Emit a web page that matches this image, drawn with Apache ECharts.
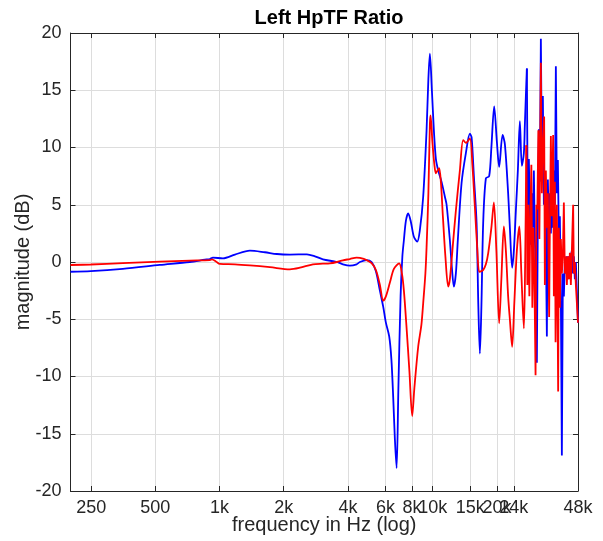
<!DOCTYPE html>
<html><head><meta charset="utf-8">
<script src="https://cdn.jsdelivr.net/npm/echarts@6/dist/echarts.min.js"></script>
<style>html,body{margin:0;padding:0;background:#fff}#c{width:603px;height:541px}</style>
</head><body><div id="c"></div>
<script>
const xTicks = [250, 500, 1000, 2000, 4000, 6000, 8000, 10000, 15000, 20000, 24000, 48000];

const blueFreq = [
 200, 249, 352, 525, 726, 854, 902, 931, 1038, 1181,
 1388, 1632, 1858, 2138, 2569, 2801, 3054, 3552, 3790, 4087,
 4394, 4553, 4895, 5166, 5412, 5651, 5856, 6029, 6248, 6398,
 6524, 6645, 6768, 6900, 7066, 7204, 7322, 7482, 7671, 7897,
 8157, 8453, 8703, 9019, 9355, 9540, 9696, 9907, 10123, 10344,
 10604, 11001, 11400, 11612, 12032, 12295, 12564, 12838, 13118, 13652,
 14301, 14932, 15209, 15591, 16053, 16368, 16636, 16907, 17240, 17748,
 18393, 18836, 19413, 19988, 20489, 21256, 21790, 22574, 22998, 23570,
 24013, 24537, 25073, 25620, 26179, 26751, 27041, 27335, 27632
];
const blueDb = [
 -0.85, -0.8, -0.6, -0.26, 0.0, 0.2, 0.26, 0.38, 0.32, 0.65,
 0.99, 0.85, 0.70, 0.65, 0.67, 0.5, 0.23, 0.0, -0.2, -0.32,
 -0.2, 0.0, 0.17, 0.0, -0.8, -2.5, -3.9, -5.3, -6.5, -8.5,
 -11.8, -15.5, -18.0, -11, -3, 0.5, 1.9, 3.6, 4.25, 3.5,
 2.2, 1.78, 2.8, 5.7, 11.5, 16, 18.2, 15, 11.5, 9.0,
 8.0, 7.0, 5.7, 5.0, 1.9, -0.5, -2.15, -1.0, 2.0, 6.9,
 9.5, 11.2, 10.9, 7.5, 3.4, -4, -8.0, -4, 3.4, 7.3,
 7.5, 10, 13.6, 10.5, 8.3, 11.1, 10.3, 6.0, 3.0, -0.5,
 1.0, 4.5, 8.0, 12.3, 8.4, 9.5, 12, 14.5, 16.9
];
const blueSpikeFreq = [
 27632, 27932, 28235, 28541, 28851, 29164, 29481, 29801, 30124, 30451,
 30782, 31116, 31454, 31795, 32140, 32489, 32842, 33198, 33559, 33923,
 34291, 34663, 35040, 35420, 35805, 36193, 36586, 36983, 37385, 37791,
 38201, 38616, 39035, 39459, 39887, 40320, 40758, 41200, 41647, 42099,
 42556, 43018, 43485, 43957, 44434, 44917, 45404, 45897, 46395, 46899,
 48000
];
const blueSpikeDb = [
 16.9, 2.3, 9, 4, 1.5, 6, 3, 8, 2, -1,
 -8.8, 4, 11.6, 7, 19.5, 9, 14.5, 5, 7.5, 2,
 -6.5, 7.2, 3, 6, 2.5, 5.5, 3, 8, 5, 17.1,
 6, 8.9, 2, 4, -3, -16.9, -1, -3, 0, -1,
 0.5, -1.5, 0.5, -0.5, 0.5, 1.0, -1, 0.5, -1.5, 0,
 -5.3
];

const redFreq = [
 200, 249, 352, 525, 726, 902, 921, 962, 1004, 1181,
 1388, 1723, 2138, 2382, 2741, 3054, 3294, 3552, 3790, 4087,
 4394, 4553, 4895, 5166, 5412, 5651, 5856, 6029, 6295, 6573,
 6960, 7166, 7322, 7522, 7770, 8009, 8201, 8545, 8845, 9019,
 9236, 9355, 9540, 9696, 9769, 9960, 10178, 10344, 10536, 10719,
 10918, 11156, 11462, 11813, 12032, 12428, 12838, 13404, 13890, 14301,
 14932, 15340, 15761, 16192, 16510, 16907, 17240, 17748, 18195, 18836,
 19350, 19880, 20489, 20980, 21556, 22026, 22574, 22998, 23570, 24143,
 24804, 25482, 26038, 26751, 27129, 27483
];
const redDb = [
 -0.26, -0.22, -0.1, 0.03, 0.12, 0.17, 0.23, 0.05, -0.17, -0.2,
 -0.29, -0.45, -0.64, -0.5, -0.2, -0.15, -0.12, 0.0, 0.15, 0.26,
 0.38, 0.35, 0.17, -0.1, -0.7, -2.0, -3.38, -3.0, -1.8, -0.6,
 -0.12, -1.0, -2.5, -5.5, -9.5, -13.45, -11, -7.4, -5.5, -3.6,
 -1, 1.3, 6, 12.1, 12.8, 10.5, 8.5, 7.75, 8.0, 8.2,
 7.0, 4, 0.5, -2.15, -1.5, 1.5, 4.5, 8.0, 10.65, 10.4,
 10.8, 8.5, 4.8, 1.0, -0.85, -0.8, -0.7, -0.2, 0.76, 3.0,
 5.2, 1.0, -5.35, -1.5, 3.1, 1.0, -3, -5.0, -7.4, -3.5,
 1, 3.1, -1, -5.8, 0, 10.2
];
const redSpikeFreq = [
 27483, 27781, 28083, 28388, 28695, 29007, 29321, 29640, 29962, 30353,
 30615, 30948, 31284, 31624, 31967, 32140, 32489, 32842, 33306, 33559,
 33923, 34291, 34663, 35154, 35420, 35805, 36193, 36705, 36983, 37385,
 37669, 38201, 38741, 39035, 39459, 39887, 40320, 40758, 41200, 41647,
 42099, 42556, 43018, 43485, 43957, 44434, 44917, 45551, 45897, 46395,
 46899, 48000
];
const redSpikeDb = [
 10.2, -2, 5, -3, 4, 8.5, -4, 3, -1, -9.9,
 5, 4.6, 11.5, 2, 12, 17.4, 6, 10, 12.7, -2,
 8, 3, 6, -4.8, 3, 11, 4, 11.1, -3, 7,
 -7, 5, -11.3, 3, -4, 2, -1, 0.5, 5.2, -1,
 0.5, -2, 0.5, -1.5, 0.8, -2, 1, 5, -1, 0,
 -2, -5.3
];

const pair = (f, d) => f.map((v, i) => [v, d[i]]);
const FONT = 'Liberation Sans, Arial, Helvetica, sans-serif';
const axisColor = '#262626';
const gridColor = '#dddddd';
const fmt = v => v >= 1000 ? (v / 1000) + 'k' : String(v);

const chart = echarts.init(document.getElementById('c'), null, {renderer: 'canvas'});

const lineSeries = (name, data, color, smooth) => ({
  name, type: 'line', data, showSymbol: false, symbol: 'none', smooth: smooth,
  lineStyle: {color, width: 1.8}, itemStyle: {color}, xAxisIndex: 0, yAxisIndex: 0
});

chart.setOption({
  animation: false,
  backgroundColor: '#fff',
  title: {
    text: 'Left HpTF Ratio', left: 324, top: 3, textAlign: 'center',
    textStyle: {fontFamily: FONT, fontWeight: 'bold', fontSize: 20, color: '#000'}
  },
  grid: {left: 70.5, right: 25, top: 33, bottom: 50, containLabel: false, outerBoundsMode: 'none'},
  xAxis: [{
    type: 'log', logBase: 10, min: 200, max: 48000, position: 'bottom',
    name: 'frequency in Hz (log)', nameLocation: 'middle', nameGap: 24, nameMoveOverlap: false,
    nameTextStyle: {fontFamily: FONT, fontSize: 20, color: axisColor},
    axisLine: {show: true, onZero: false, lineStyle: {color: axisColor, width: 1}},
    axisTick: {show: true, inside: true, length: 5, customValues: xTicks, lineStyle: {color: axisColor}},
    axisLabel: {customValues: xTicks, formatter: fmt, fontFamily: FONT, fontSize: 18, color: axisColor, margin: 8},
    splitLine: {show: true, lineStyle: {color: gridColor, width: 1}},
    minorTick: {show: false}, minorSplitLine: {show: false}
  }, {
    type: 'log', logBase: 10, min: 200, max: 48000, position: 'top',
    axisLine: {show: true, onZero: false, lineStyle: {color: axisColor, width: 1}},
    axisTick: {show: true, inside: true, length: 5, customValues: xTicks, lineStyle: {color: axisColor}},
    axisLabel: {show: false}, splitLine: {show: false}
  }],
  yAxis: [{
    type: 'value', min: -20, max: 20, interval: 5, position: 'left',
    name: 'magnitude (dB)', nameLocation: 'middle', nameGap: 37, nameMoveOverlap: false,
    nameTextStyle: {fontFamily: FONT, fontSize: 20, color: axisColor},
    axisLine: {show: true, onZero: false, lineStyle: {color: axisColor, width: 1}},
    axisTick: {show: true, inside: true, length: 5, lineStyle: {color: axisColor}},
    axisLabel: {fontFamily: FONT, fontSize: 18, color: axisColor, margin: 9},
    splitLine: {show: true, lineStyle: {color: gridColor, width: 1}}
  }, {
    type: 'value', min: -20, max: 20, interval: 5, position: 'right',
    axisLine: {show: true, onZero: false, lineStyle: {color: axisColor, width: 1}},
    axisTick: {show: true, inside: true, length: 5, lineStyle: {color: axisColor}},
    axisLabel: {show: false}, splitLine: {show: false}
  }],
  series: [
    lineSeries('blue', pair(blueFreq, blueDb), '#0000ff', 0.3),
    lineSeries('blue2', pair(blueSpikeFreq, blueSpikeDb), '#0000ff', false),
    lineSeries('red', pair(redFreq, redDb), '#ff0000', 0.3),
    lineSeries('red2', pair(redSpikeFreq, redSpikeDb), '#ff0000', false)
  ]
});
</script>
</body></html>
